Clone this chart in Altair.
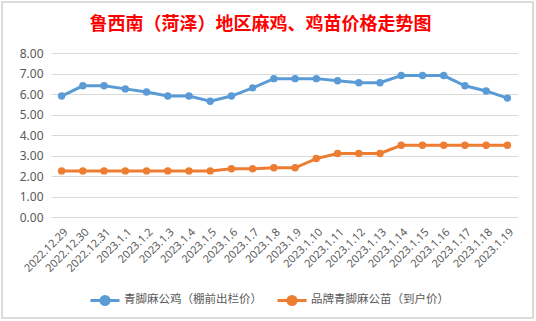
import altair as alt
import pandas as pd

dates = ["2022.12.29", "2022.12.30", "2022.12.31", "2023.1.1", "2023.1.2", "2023.1.3",
         "2023.1.4", "2023.1.5", "2023.1.6", "2023.1.7", "2023.1.8", "2023.1.9",
         "2023.1.10", "2023.1.11", "2023.1.12", "2023.1.13", "2023.1.14", "2023.1.15",
         "2023.1.16", "2023.1.17", "2023.1.18", "2023.1.19"]
chicken = [5.9, 6.4, 6.4, 6.25, 6.1, 5.9, 5.9, 5.65, 5.9, 6.3, 6.75, 6.75,
           6.75, 6.65, 6.55, 6.55, 6.9, 6.9, 6.9, 6.4, 6.15, 5.8]
chick = [2.25, 2.25, 2.25, 2.25, 2.25, 2.25, 2.25, 2.25, 2.35, 2.35, 2.4, 2.4,
         2.85, 3.1, 3.1, 3.1, 3.5, 3.5, 3.5, 3.5, 3.5, 3.5]
series = ["青脚麻公鸡（棚前出栏价）", "品牌青脚麻公苗（到户价）"]
colors = ["#5B9BD5", "#ED7D31"]
title_text = "鲁西南（菏泽）地区麻鸡、鸡苗价格走势图"

rows = []
for d, v in zip(dates, chicken):
    rows.append({"date": d, "value": v, "series": series[0]})
for d, v in zip(dates, chick):
    rows.append({"date": d, "value": v, "series": series[1]})
df = pd.DataFrame(rows)

font = "Noto Sans CJK SC"
gray = "#595959"

legend_path = ("M -1 0 L 1 0 M 0.28 0 A 0.28 0.28 0 1 1 -0.28 0 "
               "A 0.28 0.28 0 1 1 0.28 0 Z")

lines = alt.Chart(df).mark_line(
    strokeWidth=3,
    point=alt.OverlayMarkDef(filled=True, size=55, opacity=1),
).encode(
    x=alt.X("date:N", sort=dates, title=None,
            scale=alt.Scale(type="point", padding=0.5),
            axis=alt.Axis(labelAngle=-45, labelAlign="right", labelBaseline="top",
                          labelPadding=9, labelFontSize=11, labelColor=gray,
                          labelFont="Noto Sans", ticks=False, domain=False,
                          grid=False, labelOverlap=False)),
    y=alt.Y("value:Q", title=None,
            scale=alt.Scale(domain=[0, 8], nice=False),
            axis=alt.Axis(values=[0, 1, 2, 3, 4, 5, 6, 7, 8], format=".2f",
                          labelFontSize=12, labelColor=gray, labelFont="Noto Sans",
                          labelPadding=8, ticks=False, domain=False,
                          gridColor="#d9d9d9", gridWidth=1)),
    color=alt.Color("series:N", sort=series, title=None,
                    scale=alt.Scale(domain=series, range=colors),
                    legend=alt.Legend(orient="none", legendX=38, legendY=231,
                                      direction="horizontal",
                                      symbolType=legend_path, symbolSize=841,
                                      symbolStrokeWidth=3,
                                      labelFont=font, labelFontSize=11.5,
                                      labelColor=gray, labelOffset=3,
                                      columnPadding=9)),
)

border = alt.Chart(pd.DataFrame({"a": [0]})).mark_rect(
    fill=None, stroke="#d0d0d0", strokeWidth=1.5
).encode(
    x=alt.value(-49), x2=alt.value(482), y=alt.value(-51), y2=alt.value(265)
)

chart = alt.layer(border, lines).properties(
    width=467, height=164,
    padding={"left": 51, "top": 53, "right": 18, "bottom": 104},
    autosize=alt.AutoSizeParams(type="none"),
    background="white",
    title=alt.TitleParams(title_text, font=font, fontSize=18, fontWeight="bold",
                          color="#FF0000", anchor="middle", dx=-24, dy=18,
                          offset=-33, baseline="bottom"),
).configure_view(stroke=None)

chart.save("out.html", embed_options={"renderer": "svg", "actions": False})
